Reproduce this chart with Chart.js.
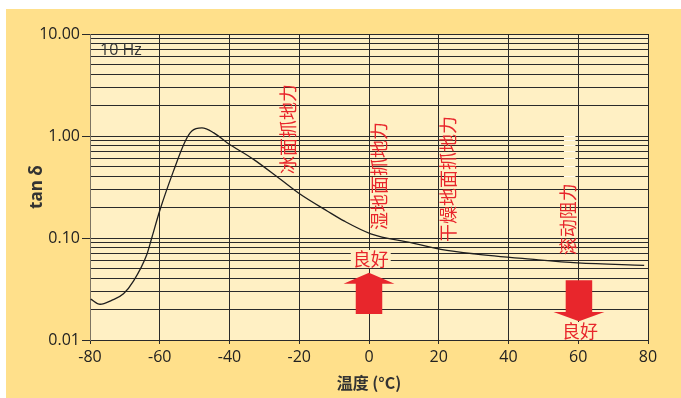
<!DOCTYPE html>
<html>
<head>
<meta charset="utf-8">
<script src="https://cdn.jsdelivr.net/npm/chart.js@4/dist/chart.umd.min.js"></script>
<style>
  html, body { margin: 0; padding: 0; background: #fff; }
  canvas { display: block; }
</style>
</head>
<body>
<canvas id="tanChart" width="681" height="398"></canvas>
<script>
// Données (température en °C, tan δ)
const temperatures = [-79.8, -77.1, -73.8, -70.4, -67.5, -63.7, -62.3, -59.9, -56.1, -52.7, -50.8, -47.9, -44.6, -40.7, -33.1, -25.4, -19.7, -12, -7.2, 0.5, 12, 20.6, 30.1, 46.4, 59.8, 78.9];
const tanDelta = [0.0252, 0.0224, 0.0245, 0.0284, 0.038, 0.069, 0.10, 0.19, 0.45, 0.89, 1.12, 1.2, 1.08, 0.86, 0.59, 0.376, 0.268, 0.184, 0.147, 0.110, 0.090, 0.0775, 0.070, 0.062, 0.057, 0.054];

const xTicks = [-80, -60, -40, -20, 0, 20, 40, 60, 80];
const yMajorTicks = [0.01, 0.1, 1, 10];

// Annotations (en coordonnées de données)
const labels = [
    { text: '冰面抓地力', x: -23.1, y: 1.17 },
    { text: '湿地面抓地力', x: 2.8, y: 0.405 },
    { text: '干燥地面抓地力', x: 22.6, y: 0.378 },
    { text: '滚动阻力', x: 57.1, y: 0.153 }
];

const RED = '#e8262c';
const FONT_NUM = '"Open Sans", sans-serif';
const FONT_CJK = '"Noto Sans CJK SC", sans-serif';

const backgroundPlugin = {
    id: 'background',
    beforeDraw(chart) {
        const { ctx, chartArea: a } = chart;
        ctx.save();
        ctx.fillStyle = '#ffffff';
        ctx.fillRect(0, 0, chart.width, chart.height);
        ctx.fillStyle = '#ffe08b';
        ctx.fillRect(6, 9, chart.width - 6, chart.height - 9);
        ctx.fillStyle = '#fff0c4';
        ctx.fillRect(a.left, a.top, a.right - a.left, a.bottom - a.top);
        ctx.restore();
    }
};

function drawArrow(ctx, xs, ys, cx, tip, base, end, headHalf, shaftHalf) {
    const px = v => xs.getPixelForValue(v);
    const py = v => ys.getPixelForValue(v);
    ctx.beginPath();
    ctx.moveTo(px(cx), py(tip));
    ctx.lineTo(px(cx + headHalf), py(base));
    ctx.lineTo(px(cx + shaftHalf), py(base));
    ctx.lineTo(px(cx + shaftHalf), py(end));
    ctx.lineTo(px(cx - shaftHalf), py(end));
    ctx.lineTo(px(cx - shaftHalf), py(base));
    ctx.lineTo(px(cx - headHalf), py(base));
    ctx.closePath();
    ctx.fill();
}

const annotationPlugin = {
    id: 'annotations',
    afterDatasetsDraw(chart) {
        const { ctx } = chart;
        const xs = chart.scales.x, ys = chart.scales.y;
        ctx.save();

        // petites coupures blanches au-dessus de "滚动阻力"
        ctx.strokeStyle = '#fffaf0';
        ctx.lineWidth = 1;
        ys.ticks.forEach(t => {
            if (t.value >= 0.39 && t.value <= 1.01) {
                const y = Math.round(ys.getPixelForValue(t.value) - 0.5) + 0.5;
                ctx.beginPath();
                ctx.moveTo(xs.getPixelForValue(55.9), y);
                ctx.lineTo(xs.getPixelForValue(59.2), y);
                ctx.stroke();
            }
        });

        // 10 Hz
        ctx.fillStyle = '#333';
        ctx.font = '16px ' + FONT_NUM;
        ctx.textAlign = 'left';
        ctx.textBaseline = 'middle';
        ctx.fillText('10 Hz', xs.getPixelForValue(-77.1), ys.getPixelForValue(6.97));

        // textes verticaux
        ctx.fillStyle = RED;
        ctx.font = '18px ' + FONT_CJK;
        ctx.textAlign = 'center';
        labels.forEach(l => {
            ctx.save();
            ctx.translate(xs.getPixelForValue(l.x), ys.getPixelForValue(l.y));
            ctx.rotate(-Math.PI / 2);
            ctx.fillText(l.text, 0, 0);
            ctx.restore();
        });

        // flèches
        drawArrow(ctx, xs, ys, 0, 0.0457, 0.0356, 0.018, 7.3, 3.8);
        drawArrow(ctx, xs, ys, 60.2, 0.0153, 0.0188, 0.0385, 7.3, 3.8);

        // "良好" avec fond
        const good = [{ x: 0.5, y: 0.0622 }, { x: 60.5, y: 0.01225 }];
        good.forEach(g => {
            const gx = xs.getPixelForValue(g.x), gy = ys.getPixelForValue(g.y);
            ctx.fillStyle = '#fff0c4';
            ctx.fillRect(gx - 20, gy - 9, 40, 18);
            ctx.fillStyle = RED;
            ctx.fillText('良好', gx, gy);
        });
        ctx.restore();
    }
};

function isMajor(v) {
    return yMajorTicks.some(m => Math.abs(Math.log10(v) - Math.log10(m)) < 1e-6);
}

new Chart(document.getElementById('tanChart'), {
    type: 'line',
    data: {
        datasets: [{
            data: temperatures.map((t, i) => ({ x: t, y: tanDelta[i] })),
            borderColor: '#1e1e1e',
            borderWidth: 1.3,
            pointRadius: 0,
            cubicInterpolationMode: 'monotone',
            fill: false
        }]
    },
    options: {
        responsive: false,
        animation: false,
        layout: { padding: { left: 6, top: 34, right: 33, bottom: 0 } },
        plugins: { legend: { display: false }, tooltip: { enabled: false } },
        scales: {
            x: {
                type: 'linear',
                min: -80,
                max: 80,
                afterFit: s => { s.height = 58; },
                afterBuildTicks: s => { s.ticks = xTicks.map(v => ({ value: v })); },
                ticks: {
                    color: '#222',
                    font: { family: FONT_NUM, size: 16 },
                    padding: 4,
                    maxRotation: 0
                },
                grid: { color: '#2a2a2a', lineWidth: 1, tickLength: 4, tickColor: '#2a2a2a' },
                border: { display: false },
                title: {
                    display: true,
                    text: '温度 (°C)',
                    color: '#333',
                    font: { family: FONT_CJK, size: 16, weight: 'bold' },
                    padding: { top: 0, bottom: 5 }
                }
            },
            y: {
                type: 'logarithmic',
                min: 0.01,
                max: 10,
                afterFit: s => { s.width = 84; },
                afterBuildTicks: s => {
                    const t = [];
                    [0.01, 0.1, 1].forEach(d => {
                        for (let k = 1; k <= 9; k++) t.push({ value: d * k });
                    });
                    t.push({ value: 10 });
                    s.ticks = t;
                },
                ticks: {
                    color: '#222',
                    font: { family: FONT_NUM, size: 16 },
                    padding: 2,
                    autoSkip: false,
                    callback: v => isMajor(v) ? v.toFixed(2) : ''
                },
                grid: {
                    color: '#2a2a2a',
                    lineWidth: 1,
                    tickLength: 8,
                    tickColor: c => (c.tick && isMajor(c.tick.value)) ? '#2a2a2a' : 'rgba(0,0,0,0)'
                },
                border: { display: true, color: '#7d7462', width: 1 },
                title: {
                    display: true,
                    text: 'tan δ',
                    color: '#333',
                    font: { family: FONT_NUM, size: 17, weight: 'bold' },
                    padding: { top: 21, bottom: 0 }
                }
            }
        }
    },
    plugins: [backgroundPlugin, annotationPlugin]
});
</script>
</body>
</html>
